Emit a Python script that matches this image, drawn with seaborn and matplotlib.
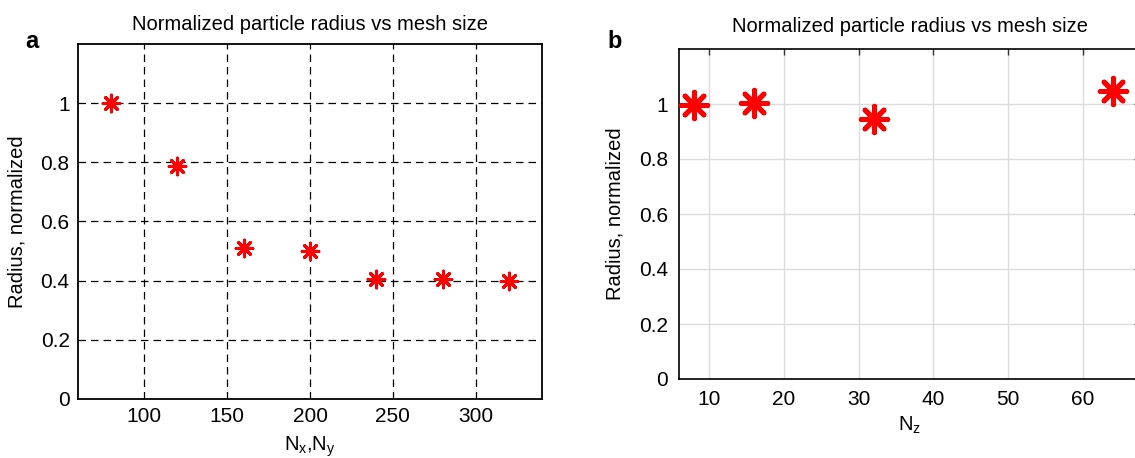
import matplotlib
matplotlib.use("Agg")
import matplotlib.pyplot as plt
import seaborn as sns
import pandas as pd

# Data
mesh_xy = [80, 120, 160, 200, 240, 280, 320]
radius_xy = [1.0, 0.786, 0.51, 0.50, 0.404, 0.406, 0.399]
mesh_z = [8, 16, 32, 64]
radius_z = [0.995, 1.005, 0.945, 1.048]
xticks_a = [100, 150, 200, 250, 300]
xticks_b = [10, 20, 30, 40, 50, 60]
yticks = [0, 0.2, 0.4, 0.6, 0.8, 1.0]
ytick_labels = ["0", "0.2", "0.4", "0.6", "0.8", "1"]
title = "Normalized particle radius vs mesh size"
ylabel = "Radius, normalized"

sns.set_theme(style="white")
plt.rcParams["font.family"] = ["Liberation Sans", "DejaVu Sans"]
plt.rcParams["mathtext.fontset"] = "custom"
plt.rcParams["mathtext.rm"] = "Liberation Sans"
plt.rcParams["mathtext.it"] = "Liberation Sans"
plt.rcParams["text.color"] = "black"
plt.rcParams["axes.labelcolor"] = "black"
plt.rcParams["xtick.color"] = "black"
plt.rcParams["ytick.color"] = "black"

W, H = 1135, 458
fig = plt.figure(figsize=(W / 100, H / 100), dpi=100)

def pos(l, t, r, b):
    return [l / W, (H - b) / H, (r - l) / W, (b - t) / H]

ax1 = fig.add_axes(pos(78, 44, 542, 399))
ax2 = fig.add_axes(pos(679, 49, 1140, 379))

df_a = pd.DataFrame({"mesh": mesh_xy, "radius": radius_xy})
df_b = pd.DataFrame({"mesh": mesh_z, "radius": radius_z})

star = (8, 2, 0)
sns.scatterplot(data=df_a, x="mesh", y="radius", ax=ax1, marker=star,
                color="red", edgecolor="red", s=12 ** 2, linewidth=2.2, zorder=5)
sns.scatterplot(data=df_b, x="mesh", y="radius", ax=ax2, marker=star,
                color="red", edgecolor="red", s=19 ** 2, linewidth=3.6, zorder=5,
                clip_on=False)

# Panel a
ax1.set_xlim(60, 340)
ax1.set_ylim(0, 1.2)
ax1.set_xticks(xticks_a)
ax1.set_yticks(yticks)
ax1.set_yticklabels(ytick_labels)
ax1.grid(True, color="black", linestyle=(0, (6, 4)), linewidth=0.9)
ax1.set_axisbelow(True)
for s in ax1.spines.values():
    s.set_visible(True)
    s.set_color("black")
    s.set_linewidth(1.3)
ax1.tick_params(direction="in", length=0, labelsize=15, pad=6)
ax1.set_title(title, fontsize=14.5, pad=10)
ax1.set_xlabel(r"N$_x$,N$_y$", fontsize=14.5, labelpad=6)
ax1.set_ylabel(ylabel, fontsize=14.5, labelpad=10)

# Panel b
ax2.set_xlim(6, 67.6)
ax2.set_ylim(0, 1.2)
ax2.set_xticks(xticks_b)
ax2.set_yticks(yticks)
ax2.set_yticklabels(ytick_labels)
ax2.grid(True, color="#dcdcdc", linestyle="-", linewidth=1.0)
ax2.set_axisbelow(True)
for s in ax2.spines.values():
    s.set_visible(True)
    s.set_color("black")
    s.set_linewidth(1.2)
ax2.tick_params(direction="in", length=4, width=1, labelsize=15, colors="#333333",
                labelcolor="black", pad=8, top=True, right=True)
ax2.set_title(title, fontsize=14.5, pad=12)
ax2.set_xlabel(r"N$_z$", fontsize=14.5, labelpad=4)
ax2.set_ylabel(ylabel, fontsize=14.5, labelpad=10)

fig.text(25 / W, 1 - 42 / H, "a", fontsize=17, fontweight="bold", va="center", ha="left")
fig.text(607 / W, 1 - 41 / H, "b", fontsize=17, fontweight="bold", va="center", ha="left")

fig.savefig("out.png", dpi=100)
